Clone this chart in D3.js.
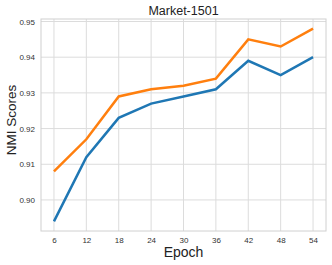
<!DOCTYPE html>
<html>
<head>
<meta charset="utf-8">
<style>
body { margin: 0; background: #fff; }
text { font-family: "Liberation Sans", Arial, sans-serif; }
.grid line { stroke: #dcdcdc; stroke-width: 1px; }
.tick text { font-size: 8px; fill: #333; font-family: "Liberation Sans", Arial, sans-serif; }
</style>
</head>
<body>
<svg width="332" height="265"></svg>
<script src="https://d3js.org/d3.v7.min.js"></script>
<script>

var epochs = [6, 12, 18, 24, 30, 36, 42, 48, 54];
var blueScores = [0.894, 0.912, 0.923, 0.927, 0.929, 0.931, 0.939, 0.935, 0.940];
var orangeScores = [0.908, 0.917, 0.929, 0.931, 0.932, 0.934, 0.945, 0.943, 0.948];
var yTicks = [0.90, 0.91, 0.92, 0.93, 0.94, 0.95];

var svg = d3.select("svg");
var margin = {left: 41, top: 19, right: 6, bottom: 34};
var width = 332 - margin.left - margin.right,
    height = 265 - margin.top - margin.bottom;

var x = d3.scaleLinear().domain([3.6, 56.4]).range([margin.left, margin.left + width]);
var y = d3.scaleLinear().domain([0.8913, 0.9507]).range([margin.top + height, margin.top]);

// grid
var grid = svg.append("g").attr("class", "grid");
grid.selectAll(".vx").data(epochs).enter().append("line")
    .attr("x1", function(d) { return x(d); }).attr("x2", function(d) { return x(d); })
    .attr("y1", margin.top).attr("y2", margin.top + height);
grid.selectAll(".hy").data(yTicks).enter().append("line")
    .attr("y1", function(d) { return y(d); }).attr("y2", function(d) { return y(d); })
    .attr("x1", margin.left).attr("x2", margin.left + width);

// frame
svg.append("rect")
    .attr("x", margin.left).attr("y", margin.top)
    .attr("width", width).attr("height", height)
    .attr("fill", "none").attr("stroke", "#d0d0d0").attr("stroke-width", 1);

var xAxis = svg.append("g")
    .attr("transform", "translate(0," + (margin.top + height) + ")")
    .call(d3.axisBottom(x).tickValues(epochs).tickSize(0).tickPadding(6));
xAxis.select(".domain").remove();

var yAxis = svg.append("g")
    .attr("transform", "translate(" + margin.left + ",0)")
    .call(d3.axisLeft(y).tickValues(yTicks).tickSize(0).tickPadding(6).tickFormat(d3.format(".2f")));
yAxis.select(".domain").remove();

var line = d3.line()
    .x(function(d, i) { return x(epochs[i]); })
    .y(function(d) { return y(d); });

svg.append("path").datum(blueScores)
    .attr("d", line).attr("fill", "none")
    .attr("stroke", "#1f77b4").attr("stroke-width", 2.5);

svg.append("path").datum(orangeScores)
    .attr("d", line).attr("fill", "none")
    .attr("stroke", "#ff7f0e").attr("stroke-width", 2.5);

svg.append("text")
    .attr("x", margin.left + width / 2).attr("y", 15)
    .attr("text-anchor", "middle")
    .style("font-size", "12.5px").style("fill", "#222")
    .text("Market-1501");

svg.append("text")
    .attr("x", margin.left + width / 2).attr("y", 257)
    .attr("text-anchor", "middle")
    .style("font-size", "14px").style("fill", "#222")
    .text("Epoch");

svg.append("text")
    .attr("transform", "translate(16,120) rotate(-90)")
    .attr("text-anchor", "middle")
    .style("font-size", "13.5px").style("fill", "#222")
    .text("NMI Scores");
</script>
</body>
</html>
